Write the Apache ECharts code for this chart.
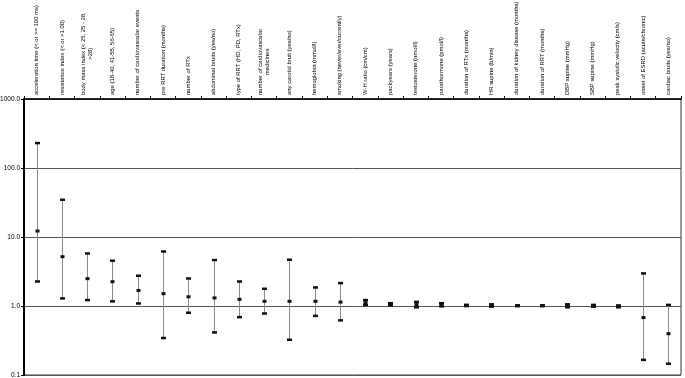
<!DOCTYPE html>
<html>
<head>
<meta charset="utf-8">
<script src="https://cdn.jsdelivr.net/npm/echarts@6/dist/echarts.min.js"></script>
<style>html,body{margin:0;padding:0;background:#fff}#c{width:685px;height:378px}</style>
</head>
<body>
<div id="c"></div>
<script>
const categories = [
  "acceleration time (< or >= 100 ms)",
  "resistance index (< or >1.00)",
  "body mass index (< 25, 25 - 28,\n>28)",
  "age (18-40, 41-55, 56-65)",
  "number of cardiovascular events",
  "pre RRT duration (months)",
  "number of RTx",
  "abdominal bruits (yes/no)",
  "type of RRT (HD, PD, RTx)",
  "number of cardiovascular\nmedicines",
  "any carotid bruit (yes/no)",
  "hemoglobin (mmol/l)",
  "smoking (never/ever/currently)",
  "W-H ratio (cm/cm)",
  "packyears (years)",
  "testosterone (nmol/l)",
  "parathormone (pmol/l)",
  "duration of RTx (months)",
  "HR supine (b/min)",
  "duration of kidney disease (months)",
  "duration of RRT (months)",
  "DBP supine (mmHg)",
  "SBP supine (mmHg)",
  "peak systolic velocity (cm/s)",
  "onset of ESRD (acute/chronic)",
  "cardiac bruits (yes/no)"
];
const lower    = [2.27, 1.29, 1.22, 1.17, 1.09, 0.344, 0.80, 0.415, 0.69, 0.78, 0.325, 0.72, 0.62, 1.04, 1.02, 0.96, 0.99, 1.00, 0.98, 1.00, 1.00, 0.96, 0.98, 0.96, 0.166, 0.146];
const estimate = [12.2, 5.18, 2.49, 2.25, 1.68, 1.51, 1.36, 1.31, 1.25, 1.17, 1.17, 1.17, 1.14, 1.12, 1.06, 1.05, 1.05, 1.02, 1.02, 1.01, 1.01, 1.01, 1.01, 0.99, 0.68, 0.397];
const upper    = [230, 34.7, 5.78, 4.54, 2.75, 6.18, 2.51, 4.64, 2.27, 1.78, 4.69, 1.86, 2.15, 1.22, 1.10, 1.15, 1.10, 1.04, 1.06, 1.02, 1.02, 1.06, 1.04, 1.02, 2.97, 1.04];
const yTicks = [0.1, 1, 10, 100, 1000];

const data = categories.map((c, i) => [i, lower[i], estimate[i], upper[i]]);

const FONT = 'Liberation Sans, Arial, sans-serif';
const chart = echarts.init(document.getElementById('c'), null, {renderer: 'canvas'});
chart.setOption({
  backgroundColor: '#fff',
  animation: false,
  grid: {left: 24, right: 4, top: 99, bottom: 3, show: true, borderColor: '#333', borderWidth: 1, containLabel: false, outerBoundsMode: 'none'},
  xAxis: {
    type: 'category',
    position: 'top',
    data: categories,
    boundaryGap: true,
    axisLine: {show: true, lineStyle: {color: '#000', width: 1.5}},
    axisTick: {show: true, interval: 0, length: 3, lineStyle: {color: '#000'}},
    axisLabel: {
      interval: 0,
      rotate: -90,
      margin: 4,
      fontFamily: FONT,
      fontSize: 5.9,
      lineHeight: 7,
      color: '#000',
      formatter: v => v.split('\n').map(s => '{a|' + s + '}').join('\n'),
      rich: {a: {align: 'center', fontSize: 5.9, lineHeight: 7, fontFamily: FONT, color: '#000'}}
    },
    splitLine: {show: false}
  },
  yAxis: {
    type: 'log',
    logBase: 10,
    min: 0.1,
    max: 1000,
    axisLine: {show: true, lineStyle: {color: '#000', width: 2}},
    axisTick: {show: true, length: 3, lineStyle: {color: '#000'}},
    axisLabel: {
      fontFamily: FONT,
      fontSize: 6.5,
      color: '#000',
      margin: 4,
      formatter: v => (yTicks.some(t => Math.abs(t - v) < 1e-9) ? Number(v).toFixed(1) : '')
    },
    splitLine: {show: true, lineStyle: {color: '#555', width: 1}},
    minorTick: {show: false}
  },
  series: [{
    type: 'custom',
    data: data,
    encode: {x: 0, y: [1, 2, 3]},
    renderItem: function (params, api) {
      const i = api.value(0);
      const lo = api.coord([i, api.value(1)]);
      const est = api.coord([i, api.value(2)]);
      const hi = api.coord([i, api.value(3)]);
      const x = Math.round(lo[0]) + 0.5;
      return {
        type: 'group',
        children: [
          {type: 'line', shape: {x1: x, y1: lo[1], x2: x, y2: hi[1]}, style: {stroke: '#8a8a8a', lineWidth: 1}},
          {type: 'rect', shape: {x: x - 2.5, y: hi[1] - 1.2, width: 5, height: 2.5}, style: {fill: '#111'}},
          {type: 'rect', shape: {x: x - 2.5, y: lo[1] - 1.2, width: 5, height: 2.5}, style: {fill: '#111'}},
          {type: 'rect', shape: {x: x - 2, y: est[1] - 1.5, width: 4, height: 3}, style: {fill: '#111'}}
        ]
      };
    }
  }]
});
</script>
</body>
</html>
